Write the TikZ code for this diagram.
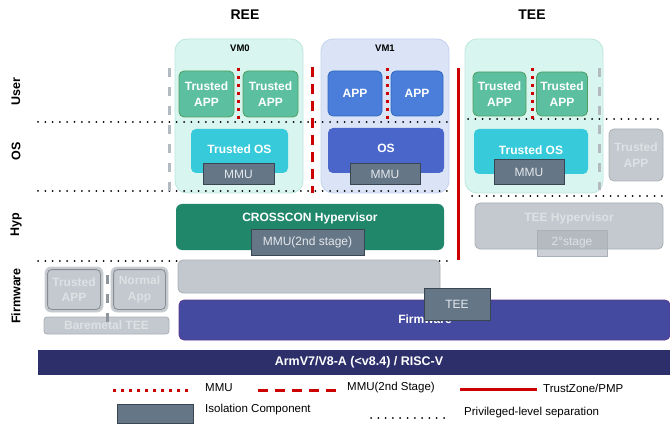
\documentclass[tikz,border=0pt]{standalone}
\usepackage{fontspec}
\setmainfont{Liberation Sans}
\newcommand{\fsz}[1]{\fontsize{#1}{#1}\selectfont}
\newcommand{\fsztwo}{\fontsize{12}{15.5}\selectfont}
\definecolor{mint}{HTML}{D8F6EF}
\definecolor{mintb}{HTML}{BDE6DC}
\definecolor{lblue}{HTML}{DAE4F6}
\definecolor{lblueb}{HTML}{C3D2EE}
\definecolor{tappc}{HTML}{5BBFA0}
\definecolor{tappb}{HTML}{4E9E62}
\definecolor{tosc}{HTML}{36CADB}
\definecolor{appc}{HTML}{4A7EDA}
\definecolor{appb}{HTML}{2F69BE}
\definecolor{osc}{HTML}{4B66CB}
\definecolor{isoc}{HTML}{657687}
\definecolor{isob}{HTML}{3A4552}
\definecolor{isot}{HTML}{E4E8EC}
\definecolor{crossc}{HTML}{20876B}
\definecolor{fwg}{HTML}{C3C8CF}
\definecolor{fwgb}{HTML}{A9AFB6}
\definecolor{fwbarc}{HTML}{444AA0}
\definecolor{armc}{HTML}{2C2F6A}
\definecolor{fadec}{HTML}{C4C9CF}
\definecolor{fadeb}{HTML}{AAB0B7}
\definecolor{fadet}{HTML}{DEE1E4}
\definecolor{rd}{HTML}{CC0000}
\definecolor{gdash}{HTML}{B3BBC1}
\tikzset{
  sz/.style 2 args={minimum width=#1, minimum height=#2},
  every node/.style={inner sep=0pt, align=center},
  cont/.style={draw=#1b, fill=#1, rounded corners=12pt, line width=0.8pt},
  tapp/.style={draw=tappb, fill=tappc, rounded corners=5pt, line width=0.8pt, text=white, font=\fsztwo\bfseries},
  appbox/.style={draw=appb, fill=appc, rounded corners=5pt, line width=0.8pt, text=white, font=\fsz{12}\bfseries},
  osbox/.style={fill=#1, rounded corners=5pt, text=white, font=\fsz{12}\bfseries},
  isobox/.style={draw=isob, fill=isoc, line width=1pt, text=isot, font=\fsz{12}},
  fadebox/.style={draw=fadeb, fill=fadec, rounded corners=5pt, line width=0.8pt, text=fadet, font=\fsz{12}\bfseries},
  lbl/.style={font=\fsz{#1}\bfseries},
  side/.style={rotate=90, font=\fsz{12.5}\bfseries},
  priv/.style={black, line width=2pt, line cap=round, dash pattern=on 0pt off 7.3pt},
  mmusep/.style={rd, line width=3pt, dash pattern=on 3pt off 5pt},
  mmutwosep/.style={rd, line width=3pt, dash pattern=on 10pt off 7pt},
  tzsep/.style={rd, line width=3pt},
  gsep/.style={gdash, line width=3pt, dash pattern=on 9pt off 10pt},
  legtext/.style={anchor=west, font=\fsz{11.5}},
}
\begin{document}
\begin{tikzpicture}[x=1pt,y=-1pt]
\useasboundingbox[fill=white] (0,0) rectangle (670,425);

% titles
\node[lbl=14] (ree) at (245,15) {REE};
\node[lbl=14] (tee) at (532,15) {TEE};
\node[side] (luser) at (16,92) {User};
\node[side] (los) at (16,151) {OS};
\node[side] (lhyp) at (16,225) {Hyp};
\node[side] (lfw) at (16,296) {Firmware};

% containers
\node[cont=mint, sz={128pt}{154pt}] (vm0) at (239,116) {};
\node[cont=lblue, sz={128pt}{154pt}] (vm1) at (385,116) {};
\node[cont=mint, sz={138pt}{154pt}] (teec) at (534,116) {};
\node[lbl=9.5] (vm0l) at (240,48) {VM0};
\node[lbl=9.5] (vm1l) at (385,48) {VM1};

% privileged-level separations
\draw[priv] (38,122) -- (448,122);
\draw[priv] (468,119) -- (665,119);
\draw[priv] (38,191) -- (448,191);
\draw[priv] (472,196) -- (665,196);
\draw[priv] (38,261) -- (447,261);

% VM0
\node[tapp, sz={55pt}{46pt}] (vm0a) at (206.5,94) {Trusted\\APP};
\node[tapp, sz={55pt}{46pt}] (vm0b) at (270.5,94) {Trusted\\APP};
\node[osbox=tosc, sz={97pt}{44pt}] (vm0os) at (239.5,151) {};
\node[font=\fsz{12}\bfseries, text=white] (vm0ost) at (239.5,149) {Trusted OS};
\node[isobox, sz={71pt}{21pt}] (vm0mmu) at (238.5,174.5) {MMU};

% VM1
\node[appbox, sz={54pt}{45pt}] (vm1a) at (355,93.5) {APP};
\node[appbox, sz={52pt}{45pt}] (vm1b) at (417,93.5) {APP};
\node[osbox=osc, sz={116pt}{45pt}] (vm1os) at (386,150.5) {};
\node[font=\fsz{12}\bfseries, text=white] (vm1ost) at (386,148) {OS};
\node[isobox, sz={70pt}{21pt}] (vm1mmu) at (385,174.5) {MMU};

% TEE
\node[tapp, sz={53pt}{44pt}] (teea) at (499.5,94) {Trusted\\APP};
\node[tapp, sz={51pt}{44pt}] (teeb) at (562,94) {Trusted\\APP};
\node[osbox=tosc, sz={114pt}{45pt}] (teeos) at (531,151.5) {};
\node[font=\fsz{12}\bfseries, text=white] (teeost) at (531,150) {Trusted OS};
\node[isobox, sz={70pt}{25pt}] (teemmu) at (529,172.5) {MMU};
\node[fadebox, sz={54pt}{52pt}, font=\fsztwo\bfseries] (fta) at (636,155) {Trusted\\APP};

% separators
\draw[mmusep] (238,68) -- (238,122);
\draw[mmusep] (387,68) -- (387,122);
\draw[mmusep] (532,68) -- (532,122);
\draw[mmutwosep] (312,67) -- (312,193);
\draw[gsep] (169,68) -- (169,192);
\draw[gsep] (599,68) -- (599,190);
\draw[tzsep] (458,68) -- (458,260);

% hypervisors
\node[fill=crossc, rounded corners=6pt, sz={268pt}{46pt}] (cross) at (310,227) {};
\node[font=\fsz{12}\bfseries, text=white] (crosst) at (310,218) {CROSSCON Hypervisor};
\node[isobox, sz={113pt}{25pt}] (mmu2) at (307.5,242.5) {MMU(2nd stage)};
\node[fadebox, sz={188pt}{46pt}] (teehyp) at (569,226) {};
\node[font=\fsz{12}\bfseries, text=fadet] (teehypt) at (569,218) {TEE Hypervisor};
\node[draw=fadeb, fill=fadeb, fill opacity=0.6, text opacity=1, line width=0.8pt, sz={70pt}{26pt}, text=fadet, font=\fsz{12}] (stage) at (572,243) {2°stage};

% firmware level
\node[draw=fwgb, fill=fwg, rounded corners=5pt, line width=0.8pt, sz={262pt}{33pt}] (fwg) at (309,276.5) {};
\node[draw=fwbarc!80!purple, fill=fwbarc, rounded corners=5pt, line width=0.8pt, sz={491pt}{40pt}] (fwbar) at (424.5,320) {};
\node[font=\fsz{12}\bfseries, text=white] (fwt) at (425,319) {Firmware};
\node[isobox, sz={66pt}{32pt}] (teeiso) at (457,304) {TEE};

% baremetal TEE (faded)
\node[draw=fadeb!60, fill=fadec, rounded corners=6pt, line width=0.8pt, sz={58pt}{45pt}] (bmta) at (74,289.5) {};
\draw[draw=fadeb!80!black, rounded corners=4pt, line width=0.8pt] ([shift={(3,3)}]bmta.north west) rectangle ([shift={(-3,-3)}]bmta.south east);
\node[font=\fsztwo\bfseries, text=fadet] (bmtat) at (74,289.5) {Trusted\\APP};
\node[draw=fadeb!60, fill=fadec, rounded corners=6pt, line width=0.8pt, sz={57pt}{45pt}] (bmna) at (139.5,289.5) {};
\draw[draw=fadeb!80!black, rounded corners=4pt, line width=0.8pt] ([shift={(3,3)}]bmna.north west) rectangle ([shift={(-3,-3)}]bmna.south east);
\node[font=\fsztwo\bfseries, text=fadet] (bmnat) at (139.5,289.5) {Normal\\App};
\node[fadebox, rounded corners=3pt, sz={125pt}{17pt}] (bmtee) at (106.5,325.5) {Baremetal TEE};
\draw[gsep, gdash!80!black] (107,275) -- (107,325);

% architecture bar
\node[fill=armc, sz={632pt}{25pt}] (arm) at (354,362.5) {};
\node[font=\fsz{12.5}\bfseries, text=white] (armt) at (359,362) {ArmV7/V8-A (<v8.4) / RISC-V};

% legend
\coordinate (l1a) at (113,390); \coordinate (l1b) at (192,390);
\draw[mmusep] (l1a) -- (l1b);
\node[legtext] (lg1) at (205,388) {MMU};
\coordinate (l2a) at (258,390); \coordinate (l2b) at (337,390);
\draw[mmutwosep] (l2a) -- (l2b);
\node[legtext] (lg2) at (347,388) {MMU(2nd Stage)};
\coordinate (l3a) at (460,389); \coordinate (l3b) at (537,389);
\draw[tzsep] (l3a) -- (l3b);
\node[legtext] (lg3) at (543,388) {TrustZone/PMP};
\node[isobox, sz={76pt}{19pt}] (lgiso) at (155,413.5) {};
\node[legtext] (lg4) at (205,410) {Isolation Component};
\coordinate (l5a) at (371,418); \coordinate (l5b) at (448,418);
\draw[priv] (l5a) -- (l5b);
\node[legtext] (lg5) at (464,413) {Privileged-level separation};
\end{tikzpicture}
\end{document}
